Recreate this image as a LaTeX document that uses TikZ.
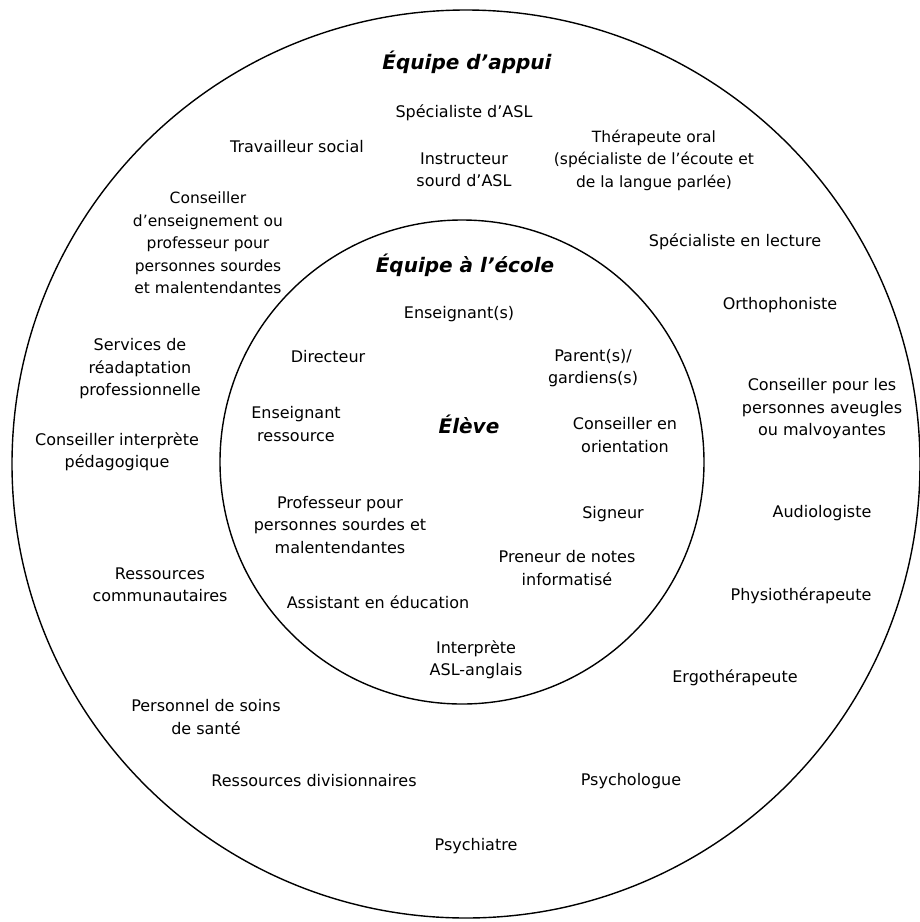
\documentclass[tikz,border=0pt]{standalone}
\usepackage{fontspec}
\setmainfont{DejaVu Sans}
\tikzset{
  lbl/.style={align=center, inner sep=0pt, font=\fontsize{16}{22.5}\selectfont},
  lblsm/.style={align=center, inner sep=0pt, font=\fontsize{15.5}{22.5}\selectfont},
  ttl/.style={align=center, inner sep=0pt, font=\fontsize{20}{24}\selectfont\bfseries\itshape},
  ring/.style={draw=black, line width=1.4pt}
}
\begin{document}
\begin{tikzpicture}[x=1pt,y=-1pt]
\useasboundingbox (0,0) rectangle (920,922);
\draw[ring] (466,464) circle [radius=454pt];
\draw[ring] (462,462) circle [radius=242pt];
% outer ring
\node[ttl] (appui) at (467,62) {Équipe d’appui};
\node[lbl] (asl) at (464,113) {Spécialiste d’ASL};
\node[lbl] (travail) at (297,147) {Travailleur social};
\node[lbl] (instr) at (464,170) {Instructeur\\sourd d’ASL};
\node[lblsm] (thera) at (654,160) {Thérapeute oral\\(spécialiste de l’écoute et\\de la langue parlée)};
\node[lblsm] (consens) at (208,243) {Conseiller\\d’enseignement ou\\professeur pour\\personnes sourdes\\et malentendantes};
\node[lbl] (lecture) at (735,242) {Spécialiste en lecture};
\node[lbl] (ortho) at (780,305) {Orthophoniste};
\node[lbl] (readapt) at (140,369) {Services de\\réadaptation\\professionnelle};
\node[lbl] (aveugle) at (822,409) {Conseiller pour les\\personnes aveugles\\ou malvoyantes};
\node[lbl] (interp) at (117,452) {Conseiller interprète\\pédagogique};
\node[lbl] (audio) at (822,513) {Audiologiste};
\node[lbl] (commun) at (160,585) {Ressources\\communautaires};
\node[lbl] (physio) at (801,596) {Physiothérapeute};
\node[lbl] (ergo) at (735,678) {Ergothérapeute};
\node[lbl] (soins) at (206,717) {Personnel de soins\\de santé};
\node[lbl] (divis) at (314,781) {Ressources divisionnaires};
\node[lbl] (psycho) at (631,781) {Psychologue};
\node[lbl] (psychi) at (476,846) {Psychiatre};
% inner circle
\node[ttl] (ecole) at (465,265) {Équipe à l’école};
\node[lbl] (ens) at (459,314) {Enseignant(s)};
\node[lbl] (dir) at (328,357) {Directeur};
\node[lbl] (parent) at (593,368) {Parent(s)/\\gardiens(s)};
\node[lbl] (ensres) at (296,424) {Enseignant\\ressource};
\node[ttl] (eleve) at (469,424) {Élève};
\node[lbl] (orient) at (625,435) {Conseiller en\\orientation};
\node[lbl] (prof) at (340,525) {Professeur pour\\personnes sourdes et\\malentendantes};
\node[lbl] (signeur) at (613,514) {Signeur};
\node[lbl] (notes) at (567,568) {Preneur de notes\\informatisé};
\node[lbl] (assist) at (378,602) {Assistant en éducation};
\node[lbl] (aslang) at (476,660) {Interprète\\ASL-anglais};
\end{tikzpicture}
\end{document}
